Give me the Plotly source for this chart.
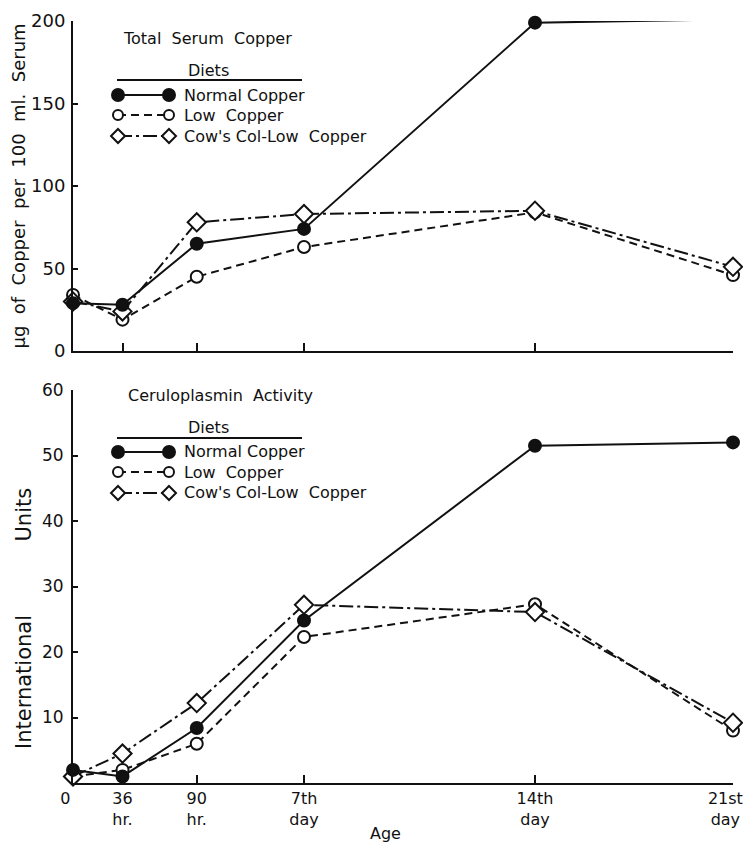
import plotly.graph_objects as go
from plotly.subplots import make_subplots

# Age axis (hours); tick labels as printed
age_hours = [0, 36, 90, 168, 336, 480]
age_labels = ["0\u00a0\u00a0\u00a0", "36<br>hr.", "90<br>hr.", "7th<br>day", "14th<br>day",
              "21st\u00a0\u00a0\u00a0<br>day\u00a0\u00a0\u00a0"]

diet_names = ["Normal\u00a0Copper", "Low\u00a0\u00a0Copper", "Cow's\u00a0Col-Low\u00a0\u00a0Copper"]

# Total serum copper (µg per 100 ml serum)
serum_normal = [29, 28, 65, 74, 199, 201]
serum_low = [34, 19, 45, 63, 84, 46]
serum_cow = [30, 24, 78, 83, 85, 51]

# Ceruloplasmin activity (international units)
cerulo_normal = [2, 1, 8.4, 24.8, 51.5, 52]
cerulo_low = [1, 2, 6, 22.3, 27.3, 8]
cerulo_cow = [1, 4.5, 12.2, 27.2, 26.1, 9.2]

serum_ticks = [0, 50, 100, 150, 200]
cerulo_ticks = [10, 20, 30, 40, 50, 60]

FONT = "DejaVu Sans"
BLACK = "#111111"

# page geometry in pixels (layout only); the page body adds an 8px margin
OFF = 8
PAGE_W, PAGE_H = 751, 844
W, H = PAGE_W - OFF, PAGE_H - OFF
PL, PR, PT, PB = 73, 733, 21, 783   # plot area on the page


def fx(px):
    return (px - PL) / (PR - PL)


def fy(py):
    return (PB - py) / (PB - PT)


styles = [
    dict(dash="solid", symbol="circle", fill=BLACK, size=12),
    dict(dash="8px,5px", symbol="circle", fill="white", size=12),
    dict(dash="14px,4px,3px,4px", symbol="diamond", fill="white", size=14),
]

fig = make_subplots(rows=2, cols=1, vertical_spacing=0.05)

top_series = [serum_normal, serum_low, serum_cow]
bot_series = [cerulo_normal, cerulo_low, cerulo_cow]

for row, series in ((1, top_series), (2, bot_series)):
    for i in (1, 2, 0):
        st = styles[i]
        fig.add_trace(go.Scatter(
            x=age_hours, y=series[i], name=diet_names[i], mode="lines+markers",
            line=dict(color=BLACK, width=2, dash=st["dash"]),
            marker=dict(symbol=st["symbol"], size=st["size"], color=st["fill"],
                        line=dict(color=BLACK, width=2)),
            cliponaxis=False, showlegend=False,
        ), row=row, col=1)

axis_common = dict(showline=True, linecolor=BLACK, linewidth=2, showgrid=False, zeroline=False,
                   ticks="inside", tickcolor=BLACK, tickwidth=1.5, automargin=False,
                   ticklabeloverflow="allow")

fig.update_xaxes(**axis_common, range=[0, 480], tickvals=age_hours, ticklen=8,
                 tickfont=dict(family=FONT, size=16, color=BLACK))
fig.update_xaxes(showticklabels=False, row=1, col=1)
fig.update_xaxes(ticktext=age_labels, row=2, col=1, ticklabelstandoff=0)

fig.update_yaxes(**axis_common, ticklen=5)
fig.update_yaxes(range=[0, 200], tickvals=serum_ticks, row=1, col=1, ticklabelstandoff=2,
                 tickfont=dict(family=FONT, size=18, color=BLACK),
                 title=dict(text="\u00b5g\u00a0\u00a0of\u00a0\u00a0Copper\u00a0\u00a0per\u00a0\u00a0100\u00a0\u00a0ml.\u00a0\u00a0Serum",
                            font=dict(family=FONT, size=18, color=BLACK), standoff=10))
fig.update_yaxes(range=[0, 60], tickvals=cerulo_ticks, row=2, col=1, ticklabelstandoff=4,
                 tickfont=dict(family=FONT, size=17, color=BLACK))

fig.update_layout(
    xaxis=dict(domain=[0, 1]), xaxis2=dict(domain=[0, 1]),
    yaxis=dict(domain=[fy(351), 1.0]), yaxis2=dict(domain=[0.0, fy(390)]),
    width=W, height=H,
    margin=dict(l=PL - OFF, r=PAGE_W - PR, t=PT - OFF, b=PAGE_H - PB),
    paper_bgcolor="white", plot_bgcolor="white",
    showlegend=False,
)


def add_text(text, px, py, anchor="left", size=16, angle=0):
    fig.add_annotation(text=text, x=fx(px), y=fy(py), xref="paper", yref="paper",
                       xanchor=anchor, yanchor="middle", showarrow=False, textangle=angle,
                       font=dict(family=FONT, size=size, color=BLACK))


# bottom y-axis title (placed off-centre as in the original)
add_text("International" + "\u00a0" * 11 + "Units", 24, 619, anchor="center", size=21, angle=-90)
# panel titles
add_text("Total\u00a0\u00a0Serum\u00a0\u00a0Copper", 121, 38)
add_text("Ceruloplasmin\u00a0\u00a0Activity", 126, 395)
# x-axis title
add_text("Age", 385, 833, anchor="center", size=16)


# hand-built legends (one per panel)
def add_legend(diets_y, line_y, rows_y, x0=118, x1=169, xline=(117, 302)):
    add_text("Diets", 208, diets_y, anchor="center")
    fig.add_shape(type="line", xref="paper", yref="paper",
                  x0=fx(xline[0]), x1=fx(xline[1]), y0=fy(line_y), y1=fy(line_y),
                  line=dict(color=BLACK, width=2))
    for i, ry in enumerate(rows_y):
        st = styles[i]
        fig.add_shape(type="line", xref="paper", yref="paper",
                      x0=fx(x0), x1=fx(x1), y0=fy(ry), y1=fy(ry),
                      line=dict(color=BLACK, width=2, dash=st["dash"]))
        for mx in (x0, x1):
            if st["symbol"] == "circle":
                r = 6 if i == 0 else 5
                fig.add_shape(type="circle", xref="paper", yref="paper",
                              xsizemode="pixel", ysizemode="pixel",
                              xanchor=fx(mx), yanchor=fy(ry),
                              x0=-r, x1=r, y0=-r, y1=r,
                              fillcolor=st["fill"], line=dict(color=BLACK, width=2))
            else:
                fig.add_shape(type="path", xref="paper", yref="paper",
                              xsizemode="pixel", ysizemode="pixel",
                              xanchor=fx(mx), yanchor=fy(ry),
                              path="M0,7 L7,0 L0,-7 L-7,0 Z",
                              fillcolor="white", line=dict(color=BLACK, width=2))
        add_text(diet_names[i], 182, ry)


add_legend(70, 80, [95, 115, 136])
add_legend(427, 438, [452, 472, 493])

fig.write_html("out.html")
